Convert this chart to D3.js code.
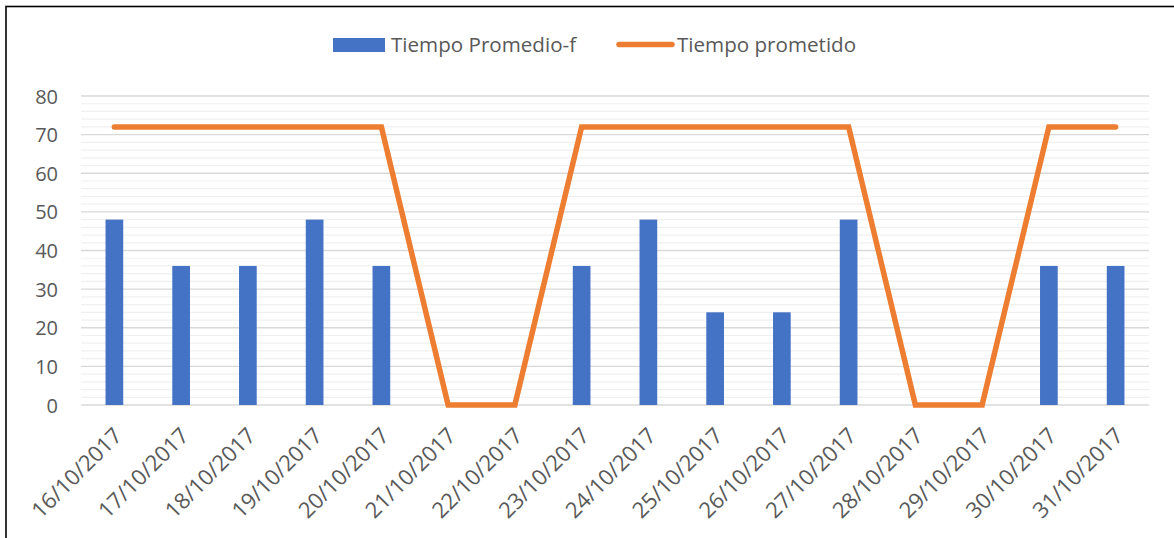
<!DOCTYPE html>
<html>
<head>
<meta charset="utf-8">
<script src="https://cdn.jsdelivr.net/npm/d3@7"></script>
<style>
  body { margin: 0; background: #fff; }
  text { font-family: 'Open Sans', sans-serif; fill: #595959; }
</style>
</head>
<body>
<svg width="1174" height="538"></svg>
<script>
// Chart data
var fechas = ['16/10/2017', '17/10/2017', '18/10/2017', '19/10/2017', '20/10/2017',
  '21/10/2017', '22/10/2017', '23/10/2017', '24/10/2017', '25/10/2017',
  '26/10/2017', '27/10/2017', '28/10/2017', '29/10/2017', '30/10/2017', '31/10/2017'];
var tiempoPromedio = [48, 36, 36, 48, 36, 0, 0, 36, 48, 24, 24, 48, 0, 0, 36, 36];
var tiempoPrometido = [72, 72, 72, 72, 72, 0, 0, 72, 72, 72, 72, 72, 0, 0, 72, 72];
var yTicks = [0, 10, 20, 30, 40, 50, 60, 70, 80];
var yMinorTicks = d3.range(0, 81, 2);
var serieNames = ['Tiempo Promedio-f', 'Tiempo prometido'];

var barColor = '#4472C4';
var lineColor = '#ED7D31';

var svg = d3.select('svg');

// outer frame (picture is cropped on right and bottom)
svg.append('rect')
  .attr('x', 6).attr('y', 6.5)
  .attr('width', 1200).attr('height', 600)
  .attr('fill', 'none')
  .attr('stroke', '#000')
  .attr('stroke-width', 1.6);

var scaleX = d3.scaleBand()
  .domain(fechas)
  .range([81, 1149]);
var scaleY = d3.scaleLinear()
  .domain([0, 80])
  .range([405, 96]);

// minor grid
svg.append('g').selectAll('line')
  .data(yMinorTicks.filter(function(d) { return d % 10 != 0; }))
  .enter().append('line')
  .attr('x1', 81).attr('x2', 1149)
  .attr('y1', function(d) { return scaleY(d); })
  .attr('y2', function(d) { return scaleY(d); })
  .attr('stroke', '#f0f0f0')
  .attr('stroke-width', 1.2);

// major grid
svg.append('g').selectAll('line')
  .data(yTicks)
  .enter().append('line')
  .attr('x1', 81).attr('x2', 1149)
  .attr('y1', function(d) { return scaleY(d); })
  .attr('y2', function(d) { return scaleY(d); })
  .attr('stroke', '#d9d9d9')
  .attr('stroke-width', 1.3);

// y axis labels
var axisY = d3.axisLeft(scaleY).tickValues(yTicks).tickSize(0).tickPadding(23);
var gY = svg.append('g').attr('transform', 'translate(81,0)').call(axisY);
gY.select('.domain').remove();
gY.selectAll('text')
  .style('font-size', '20px')
  .attr('dy', '0.35em')
  .attr('fill', '#595959');

// x axis labels
svg.append('g').selectAll('text')
  .data(fechas)
  .enter().append('text')
  .attr('transform', function(d) {
    var cx = scaleX(d) + scaleX.bandwidth() / 2;
    return 'translate(' + (cx + 9) + ',437) rotate(-45)';
  })
  .attr('text-anchor', 'end')
  .style('font-size', '22px')
  .text(function(d) { return d; });

// bars
var barW = scaleX.bandwidth() * 0.265;
svg.append('g').selectAll('rect')
  .data(tiempoPromedio)
  .enter().append('rect')
  .attr('x', function(d, i) { return scaleX(fechas[i]) + scaleX.bandwidth() / 2 - barW / 2; })
  .attr('y', function(d) { return scaleY(d); })
  .attr('width', barW)
  .attr('height', function(d) { return scaleY(0) - scaleY(d); })
  .attr('fill', barColor);

// line
var line = d3.line()
  .x(function(d, i) { return scaleX(fechas[i]) + scaleX.bandwidth() / 2; })
  .y(function(d) { return scaleY(d); });
svg.append('path')
  .datum(tiempoPrometido)
  .attr('d', line)
  .attr('fill', 'none')
  .attr('stroke', lineColor)
  .attr('stroke-width', 5.5)
  .attr('stroke-linejoin', 'miter')
  .attr('stroke-linecap', 'round');

// legend
var legend = svg.append('g');
legend.append('rect')
  .attr('x', 333).attr('y', 38)
  .attr('width', 52).attr('height', 14)
  .attr('fill', barColor);
legend.append('text')
  .attr('x', 391).attr('y', 52)
  .style('font-size', '20.6px')
  .text(serieNames[0]);
legend.append('line')
  .attr('x1', 619).attr('x2', 672)
  .attr('y1', 44.5).attr('y2', 44.5)
  .attr('stroke', lineColor)
  .attr('stroke-width', 5.5)
  .attr('stroke-linecap', 'round');
legend.append('text')
  .attr('x', 677).attr('y', 52)
  .style('font-size', '20.6px')
  .text(serieNames[1]);
</script>
</body>
</html>
